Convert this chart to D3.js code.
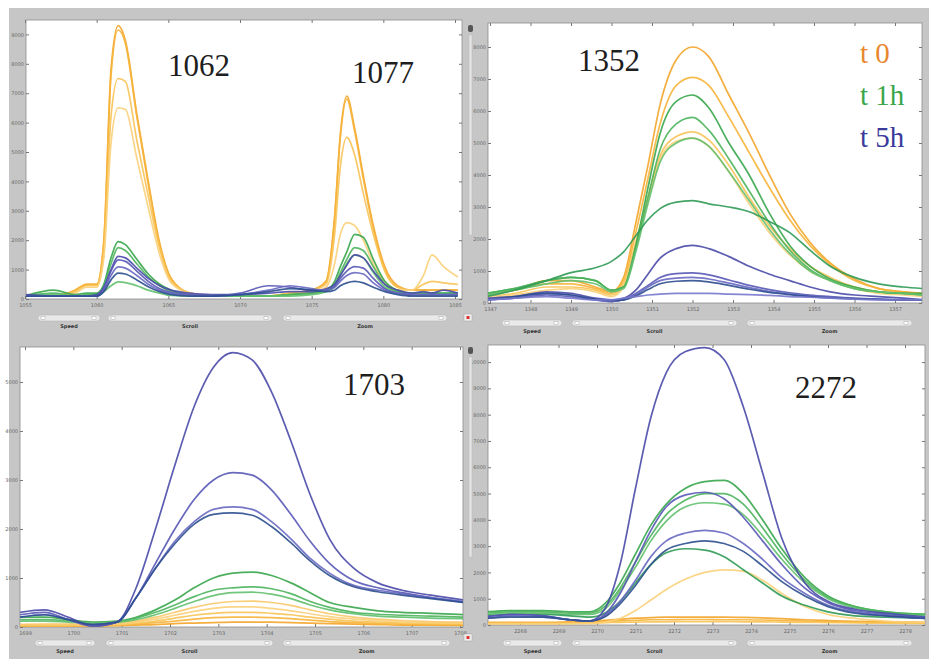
<!DOCTYPE html>
<html>
<head>
<meta charset="utf-8">
<script src="https://cdn.jsdelivr.net/npm/d3@7"></script>
<style>
  body { margin: 0; background: #fff; }
  svg { display: block; }
</style>
</head>
<body>
<svg id="chart" width="929" height="659"></svg>
<script>
// ---- data (intensity in thousands of counts) ----

// panel 1062 / 1077
var X_TL = [1055, 1057, 1058.5, 1059.3, 1060, 1060.5, 1061, 1061.5, 1062, 1062.8, 1063.6, 1064.4, 1065.2, 1066.5, 1068, 1070, 1072, 1073.5, 1075, 1076, 1076.6, 1077, 1077.45, 1078, 1078.6, 1079.3, 1080.1, 1081, 1082, 1082.8, 1083.4, 1084.2, 1085.2];
var TL_T0 = [
  [0.1,0.1,0.3,0.5,0.5,2.0,7.8,9.3,8.8,6.3,4.0,1.9,0.7,0.2,0.1,0.1,0.1,0.2,0.3,0.6,2.8,5.6,6.9,5.8,4.2,2.5,1.1,0.45,0.3,0.3,0.3,0.3,0.3],
  [0.1,0.1,0.3,0.5,0.5,1.9,7.6,9.15,8.7,6.2,3.9,1.8,0.65,0.2,0.1,0.1,0.1,0.2,0.3,0.6,2.7,5.5,6.8,5.7,4.1,2.4,1.0,0.4,0.3,0.3,0.3,0.3,0.3],
  [0.1,0.1,0.25,0.45,0.45,1.6,6.2,7.5,7.4,5.4,3.5,1.7,0.6,0.2,0.1,0.1,0.1,0.2,0.3,0.5,2.2,4.5,5.5,4.9,3.6,2.2,0.95,0.4,0.3,0.5,0.6,0.55,0.5],
  [0.1,0.1,0.2,0.4,0.4,1.4,5.3,6.5,6.45,4.8,3.1,1.5,0.55,0.2,0.1,0.1,0.1,0.15,0.25,0.4,1.2,2.2,2.6,2.5,2.0,1.2,0.6,0.3,0.3,0.8,1.5,1.1,0.75]
];
var TL_T1 = [
  [0.1,0.3,0.15,0.2,0.2,0.5,1.4,1.95,1.85,1.35,0.85,0.5,0.3,0.15,0.1,0.1,0.1,0.15,0.2,0.3,0.6,1.1,1.6,2.2,2.1,1.35,0.6,0.3,0.2,0.2,0.2,0.2,0.2],
  [0.1,0.2,0.1,0.15,0.15,0.45,1.2,1.75,1.65,1.2,0.75,0.45,0.25,0.15,0.1,0.1,0.1,0.15,0.2,0.3,0.5,0.9,1.35,1.75,1.65,1.1,0.5,0.25,0.2,0.2,0.2,0.2,0.2],
  [0.1,0.15,0.1,0.1,0.1,0.25,0.45,0.58,0.56,0.45,0.3,0.2,0.12,0.1,0.1,0.1,0.1,0.1,0.15,0.25,0.4,0.8,1.2,1.5,1.4,0.9,0.4,0.2,0.15,0.15,0.15,0.15,0.15]
];
var TL_T5 = [
  [0.15,0.1,0.1,0.1,0.15,0.4,1.0,1.45,1.4,1.05,0.7,0.45,0.3,0.2,0.15,0.15,0.2,0.25,0.25,0.35,0.5,0.8,1.15,1.5,1.4,0.95,0.5,0.3,0.2,0.25,0.2,0.3,0.2],
  [0.1,0.1,0.1,0.1,0.1,0.35,0.95,1.33,1.28,0.95,0.6,0.35,0.22,0.15,0.1,0.2,0.45,0.4,0.3,0.3,0.45,0.7,0.95,1.1,1.05,0.7,0.35,0.2,0.15,0.15,0.15,0.15,0.15],
  [0.1,0.1,0.1,0.1,0.1,0.3,0.8,1.09,1.05,0.8,0.5,0.3,0.2,0.15,0.1,0.15,0.3,0.45,0.35,0.3,0.4,0.6,0.8,0.9,0.85,0.55,0.3,0.2,0.15,0.15,0.15,0.15,0.15],
  [0.1,0.1,0.1,0.1,0.1,0.25,0.65,0.88,0.85,0.65,0.42,0.25,0.15,0.1,0.1,0.15,0.25,0.35,0.3,0.25,0.3,0.45,0.55,0.6,0.55,0.4,0.25,0.15,0.1,0.1,0.1,0.1,0.1]
];
var TICKS_X_TL = [1055, 1060, 1065, 1070, 1075, 1080, 1085];
var TICKS_Y_TL = [0, 1, 2, 3, 4, 5, 6, 7, 8, 9];

// panel 1352
var X_TR = [1346.9, 1347.6, 1348.4, 1349, 1349.6, 1350, 1350.3, 1350.6, 1350.9, 1351.2, 1351.6, 1352, 1352.4, 1352.9, 1353.4, 1353.9, 1354.4, 1354.9, 1355.4, 1356, 1356.6, 1357.2, 1357.7];
var TR_T0 = [
  [0.3,0.4,0.7,0.7,0.5,0.35,0.8,2.5,4.3,6.2,7.6,8.0,7.7,6.5,5.3,4.0,2.8,1.9,1.25,0.75,0.45,0.35,0.3],
  [0.3,0.4,0.6,0.6,0.45,0.3,0.7,2.2,3.9,5.6,6.8,7.05,6.8,5.8,4.7,3.6,2.6,1.8,1.2,0.7,0.45,0.35,0.3],
  [0.2,0.3,0.5,0.5,0.4,0.25,0.6,1.9,3.3,4.6,5.2,5.35,5.1,4.3,3.3,2.4,1.7,1.15,0.8,0.5,0.35,0.3,0.25],
  [0.15,0.25,0.4,0.45,0.35,0.2,0.5,1.8,3.2,4.5,5.05,5.15,4.9,4.1,3.1,2.2,1.5,1.0,0.7,0.45,0.3,0.25,0.2]
];
var TR_T1 = [
  [0.3,0.45,0.7,0.8,0.7,0.4,0.5,1.8,3.6,5.3,6.3,6.5,6.1,5.0,4.0,2.8,1.8,1.15,0.75,0.5,0.35,0.3,0.3],
  [0.3,0.45,0.7,0.8,0.7,0.4,0.5,1.7,3.3,4.8,5.6,5.8,5.4,4.5,3.5,2.5,1.65,1.05,0.7,0.45,0.35,0.3,0.25],
  [0.25,0.4,0.6,0.7,0.6,0.35,0.45,1.6,3.1,4.4,5.0,5.15,4.9,4.1,3.2,2.3,1.55,1.0,0.7,0.45,0.35,0.3,0.25],
  [0.2,0.4,0.7,0.95,1.1,1.3,1.6,2.1,2.6,2.95,3.15,3.2,3.1,3.0,2.85,2.55,2.2,1.65,1.15,0.8,0.6,0.5,0.45]
];
var TR_T5 = [
  [0.15,0.2,0.35,0.3,0.15,0.1,0.15,0.4,0.9,1.4,1.7,1.8,1.7,1.45,1.15,0.9,0.7,0.5,0.35,0.25,0.2,0.15,0.1],
  [0.1,0.15,0.25,0.2,0.1,0.05,0.1,0.3,0.55,0.8,0.92,0.94,0.88,0.72,0.55,0.42,0.32,0.25,0.2,0.15,0.12,0.1,0.1],
  [0.1,0.15,0.3,0.25,0.1,0.05,0.1,0.25,0.5,0.7,0.78,0.8,0.75,0.62,0.48,0.36,0.28,0.22,0.18,0.14,0.12,0.1,0.1],
  [0.1,0.2,0.3,0.25,0.12,0.08,0.1,0.22,0.42,0.6,0.68,0.7,0.66,0.55,0.43,0.33,0.26,0.2,0.16,0.13,0.11,0.1,0.1],
  [0.1,0.15,0.2,0.15,0.1,0.1,0.15,0.2,0.25,0.28,0.3,0.3,0.3,0.28,0.26,0.24,0.2,0.18,0.15,0.12,0.1,0.1,0.1]
];
var TICKS_X_TR = [1347, 1348, 1349, 1350, 1351, 1352, 1353, 1354, 1355, 1356, 1357];
var TICKS_Y_TR = [0, 1, 2, 3, 4, 5, 6, 7, 8];

// panel 1703
var X_BL = [1698.9, 1699.4, 1699.9, 1700.4, 1700.9, 1701.3, 1701.7, 1702.1, 1702.5, 1702.9, 1703.3, 1703.7, 1704.1, 1704.5, 1704.9, 1705.3, 1705.8, 1706.3, 1706.8, 1707.4, 1708.1];
var BL_T0 = [
  [0.02,0.02,0.02,0.02,0.03,0.04,0.05,0.07,0.08,0.09,0.1,0.1,0.1,0.09,0.08,0.07,0.06,0.05,0.04,0.04,0.03],
  [0.03,0.03,0.03,0.03,0.04,0.06,0.09,0.12,0.16,0.19,0.2,0.2,0.19,0.17,0.14,0.11,0.09,0.07,0.06,0.05,0.05],
  [0.04,0.04,0.04,0.04,0.05,0.08,0.12,0.18,0.24,0.28,0.3,0.3,0.28,0.25,0.2,0.16,0.12,0.1,0.08,0.07,0.06],
  [0.05,0.05,0.05,0.05,0.06,0.1,0.16,0.24,0.32,0.38,0.41,0.41,0.38,0.33,0.27,0.21,0.16,0.13,0.1,0.09,0.08],
  [0.05,0.06,0.06,0.06,0.08,0.12,0.2,0.3,0.4,0.48,0.52,0.53,0.5,0.44,0.35,0.27,0.2,0.16,0.13,0.11,0.1]
];
var BL_T1 = [
  [0.2,0.2,0.15,0.1,0.12,0.2,0.35,0.55,0.8,1.0,1.1,1.12,1.05,0.9,0.7,0.5,0.4,0.33,0.3,0.28,0.25],
  [0.15,0.15,0.12,0.08,0.1,0.18,0.3,0.45,0.62,0.75,0.8,0.82,0.78,0.68,0.52,0.4,0.3,0.26,0.24,0.22,0.2],
  [0.12,0.12,0.1,0.08,0.1,0.15,0.25,0.38,0.52,0.64,0.7,0.71,0.67,0.58,0.45,0.35,0.27,0.22,0.2,0.18,0.17]
];
var BL_T5 = [
  [0.3,0.35,0.2,0.02,0.1,0.8,2.0,3.3,4.5,5.3,5.6,5.45,4.8,3.8,2.7,1.8,1.2,0.9,0.75,0.65,0.55],
  [0.25,0.3,0.15,0.02,0.1,0.6,1.3,2.0,2.6,3.0,3.15,3.1,2.8,2.3,1.75,1.3,0.95,0.8,0.7,0.6,0.5],
  [0.2,0.25,0.15,0.05,0.1,0.6,1.2,1.75,2.15,2.4,2.45,2.4,2.15,1.8,1.4,1.1,0.85,0.75,0.68,0.6,0.52],
  [0.2,0.25,0.15,0.05,0.1,0.6,1.2,1.7,2.1,2.3,2.33,2.28,2.05,1.72,1.35,1.05,0.82,0.72,0.65,0.58,0.5]
];
var TICKS_X_BL = [1699, 1700, 1701, 1702, 1703, 1704, 1705, 1706, 1707, 1708];
var TICKS_Y_BL = [0, 1, 2, 3, 4, 5];

// panel 2272
var X_BR = [2267.1, 2267.8, 2268.6, 2269.3, 2269.8, 2270.2, 2270.6, 2271.0, 2271.4, 2271.8, 2272.3, 2272.8, 2273.3, 2273.8, 2274.3, 2274.8, 2275.4, 2276.0, 2276.7, 2277.5, 2278.6];
var BR_T0 = [
  [0.1,0.1,0.1,0.12,0.15,0.18,0.22,0.26,0.28,0.3,0.3,0.3,0.3,0.29,0.27,0.24,0.2,0.17,0.14,0.12,0.1],
  [0.08,0.08,0.08,0.1,0.12,0.14,0.16,0.18,0.2,0.2,0.21,0.21,0.2,0.2,0.19,0.17,0.15,0.13,0.11,0.1,0.08],
  [0.05,0.05,0.05,0.06,0.08,0.09,0.1,0.11,0.12,0.12,0.13,0.13,0.13,0.12,0.12,0.11,0.1,0.09,0.08,0.07,0.06],
  [0.05,0.05,0.05,0.05,0.05,0.1,0.25,0.55,0.95,1.35,1.75,2.0,2.1,2.05,1.7,1.2,0.7,0.4,0.25,0.15,0.1]
];
var BR_T1 = [
  [0.5,0.55,0.55,0.5,0.5,0.8,1.6,2.7,3.8,4.6,5.2,5.45,5.5,5.0,4.0,2.9,1.8,1.1,0.7,0.5,0.4],
  [0.45,0.5,0.5,0.45,0.45,0.7,1.4,2.4,3.4,4.2,4.75,5.0,5.0,4.6,3.7,2.7,1.7,1.05,0.7,0.5,0.4],
  [0.4,0.45,0.45,0.4,0.4,0.6,1.3,2.2,3.2,3.95,4.5,4.65,4.6,4.2,3.4,2.5,1.6,1.0,0.65,0.45,0.35],
  [0.35,0.4,0.4,0.35,0.3,0.45,0.9,1.6,2.3,2.75,2.9,2.85,2.6,2.1,1.6,1.1,0.75,0.5,0.35,0.3,0.25]
];
var BR_T5 = [
  [0.3,0.4,0.35,0.2,0.15,0.6,2.3,5.2,7.9,9.6,10.4,10.55,10.1,8.3,5.8,3.3,1.6,0.9,0.6,0.45,0.3],
  [0.3,0.4,0.35,0.2,0.15,0.4,1.2,2.4,3.6,4.5,4.95,5.05,4.8,4.1,3.2,2.3,1.4,0.85,0.55,0.4,0.3],
  [0.25,0.35,0.3,0.2,0.15,0.35,0.9,1.7,2.6,3.2,3.5,3.6,3.5,3.1,2.5,1.8,1.2,0.75,0.5,0.35,0.25],
  [0.25,0.3,0.3,0.2,0.15,0.3,0.8,1.5,2.3,2.85,3.1,3.2,3.1,2.8,2.25,1.65,1.1,0.7,0.45,0.35,0.25]
];
var TICKS_X_BR = [2268, 2269, 2270, 2271, 2272, 2273, 2274, 2275, 2276, 2277, 2278];
var TICKS_Y_BR = [0, 1, 2, 3, 4, 5, 6, 7, 8, 9, 10];

var LEGEND = ['t 0', 't 1h', 't 5h'];

// ---- styles ----
var COLORS = {
  t0: ['#f3a52a', '#f6b43a', '#f8c356', '#fbd07a', '#f9c86a'],
  t1h: ['#38a64d', '#4db45d', '#62c06e', '#2f9a55'],
  t5h: ['#4a4aa8', '#5858b6', '#6868c2', '#2c4f8f', '#7878cc']
};
var LEGEND_COLORS = ['#e8872f', '#3aa64a', '#3b3b9c'];

var svg = d3.select('#chart');

svg.append('rect').attr('x', 9).attr('y', 8).attr('width', 920).attr('height', 651).attr('fill', '#c6c6c6');

var panels = [
  {id: 'tl', xs: X_TL, t0: TL_T0, t1h: TL_T1, t5h: TL_T5, xTicks: TICKS_X_TL, yTicks: TICKS_Y_TL,
   box: [26, 20, 462, 299], xDom: [1055, 1085], xRange: [25, 455], yMax: 9.49,
   sliderY: 315, sliders: [[38, 100], [108, 272], [283, 447]], strip: false},
  {id: 'tr', xs: X_TR, t0: TR_T0, t1h: TR_T1, t5h: TR_T5, xTicks: TICKS_X_TR, yTicks: TICKS_Y_TR,
   box: [488, 23, 922, 303], xDom: [1347, 1357], xRange: [490, 895], yMax: 8.75,
   sliderY: 320, sliders: [[502, 562], [572, 737], [747, 912]], strip: true},
  {id: 'bl', xs: X_BL, t0: BL_T0, t1h: BL_T1, t5h: BL_T5, xTicks: TICKS_X_BL, yTicks: TICKS_Y_BL,
   box: [20, 347, 463, 627], xDom: [1699, 1708], xRange: [25, 460], yMax: 5.714,
   sliderY: 640, sliders: [[35, 95], [106, 273], [283, 450]], strip: false},
  {id: 'br', xs: X_BR, t0: BR_T0, t1h: BR_T1, t5h: BR_T5, xTicks: TICKS_X_BR, yTicks: TICKS_Y_BR,
   box: [488, 345, 925, 625], xDom: [2268, 2278], xRange: [520, 905], yMax: 10.65,
   sliderY: 640, sliders: [[503, 562], [572, 737], [747, 912]], strip: true}
];

panels.forEach(function(p) { drawPanel(svg, p); });
drawLabels(svg);

function drawPanel(svg, p) {
  var x0 = p.box[0], y0 = p.box[1], x1 = p.box[2], y1 = p.box[3];
  var g = svg.append('g').attr('class', 'panel ' + p.id);

  g.append('rect').attr('x', x0).attr('y', y0).attr('width', x1 - x0).attr('height', y1 - y0)
    .attr('fill', '#fff').attr('stroke', '#8c8c8c').attr('stroke-width', 0.8);

  var x = d3.scaleLinear().domain(p.xDom).range(p.xRange);
  var y = d3.scaleLinear().domain([0, p.yMax]).range([y1, y0]);

  var tickStyle = function(sel) {
    sel.select('.domain').remove();
    sel.selectAll('line').attr('stroke', '#777');
    sel.selectAll('text').attr('fill', '#666').style('font', '5px "DejaVu Sans"');
  };

  g.append('g').attr('transform', 'translate(0,' + y1 + ')')
    .call(d3.axisBottom(x).tickValues(p.xTicks).tickSize(-3).tickPadding(4).tickFormat(d3.format('d')))
    .call(tickStyle);
  g.append('g').attr('transform', 'translate(0,' + y0 + ')')
    .call(d3.axisTop(x).tickValues(p.xTicks).tickSize(-3).tickFormat(''))
    .call(tickStyle);
  g.append('g').attr('transform', 'translate(' + x0 + ',0)')
    .call(d3.axisLeft(y).tickValues(p.yTicks).tickSize(-3).tickPadding(2).tickFormat(function(d) { return d3.format('d')(d * 1000); }))
    .call(tickStyle);
  g.append('g').attr('transform', 'translate(' + x1 + ',0)')
    .call(d3.axisRight(y).tickValues(p.yTicks).tickSize(-3).tickFormat(''))
    .call(tickStyle);

  svg.append('clipPath').attr('id', 'clip-' + p.id)
    .append('rect').attr('x', x0).attr('y', y0 - 2).attr('width', x1 - x0).attr('height', y1 - y0 + 2);

  var line = d3.line()
    .x(function(d, i) { return x(p.xs[i]); })
    .y(function(d) { return y(d); })
    .curve(d3.curveMonotoneX);

  var gLines = g.append('g').attr('clip-path', 'url(#clip-' + p.id + ')');
  ['t0', 't1h', 't5h'].forEach(function(key) {
    gLines.selectAll('path.' + key)
      .data(p[key])
      .enter()
      .append('path')
      .attr('class', key)
      .attr('d', line)
      .attr('fill', 'none')
      .attr('stroke', function(d, i) { return COLORS[key][i % COLORS[key].length]; })
      .attr('stroke-width', 1.7)
      .attr('stroke-opacity', 0.9);
  });

  // viewer controls under each plot
  var names = ['Speed', 'Scroll', 'Zoom'];
  p.sliders.forEach(function(s, i) {
    g.append('rect').attr('x', s[0]).attr('y', p.sliderY).attr('width', s[1] - s[0]).attr('height', 6)
      .attr('rx', 3).attr('fill', '#e9e9e9').attr('stroke', '#b0b0b0').attr('stroke-width', 0.5);
    g.append('rect').attr('x', s[0] + 3).attr('y', p.sliderY + 1.5).attr('width', 4).attr('height', 3)
      .attr('fill', '#fff').attr('stroke', '#999').attr('stroke-width', 0.4);
    g.append('rect').attr('x', s[1] - 8).attr('y', p.sliderY + 1.5).attr('width', 4).attr('height', 3)
      .attr('fill', '#fff').attr('stroke', '#999').attr('stroke-width', 0.4);
    g.append('text').attr('x', (s[0] + s[1]) / 2).attr('y', p.sliderY + 13)
      .attr('text-anchor', 'middle').attr('fill', '#333')
      .style('font', 'bold 5px "DejaVu Sans"').text(names[i]);
  });

  if (p.strip) {
    g.append('rect').attr('x', 469).attr('y', y0 + 12).attr('width', 3).attr('height', 200)
      .attr('fill', '#e4e4e4').attr('stroke', '#b4b4b4').attr('stroke-width', 0.4);
    g.append('rect').attr('x', 468).attr('y', y0 + 2).attr('width', 5).attr('height', 7)
      .attr('rx', 2).attr('fill', '#555');
    g.append('rect').attr('x', 464).attr('y', p.sliderY - 6).attr('width', 8).attr('height', 7)
      .attr('fill', '#eee').attr('stroke', '#999').attr('stroke-width', 0.4);
    g.append('rect').attr('x', 466.5).attr('y', p.sliderY - 4).attr('width', 3).attr('height', 3)
      .attr('fill', '#d33');
  }
}

function drawLabels(svg) {
  var serif = '"Liberation Serif", "Times New Roman", serif';
  var peaks = [
    ['1062', 168, 76], ['1077', 352, 83], ['1352', 578, 71], ['1703', 343, 395], ['2272', 795, 398]
  ];
  peaks.forEach(function(t) {
    svg.append('text').attr('x', t[1]).attr('y', t[2]).attr('fill', '#1e1e1e')
      .style('font', '31px ' + serif).text(t[0]);
  });
  LEGEND.forEach(function(t, i) {
    svg.append('text').attr('x', 860).attr('y', 63 + i * 42).attr('fill', LEGEND_COLORS[i])
      .style('font', '29px ' + serif).text(t);
  });
}
</script>
</body>
</html>
